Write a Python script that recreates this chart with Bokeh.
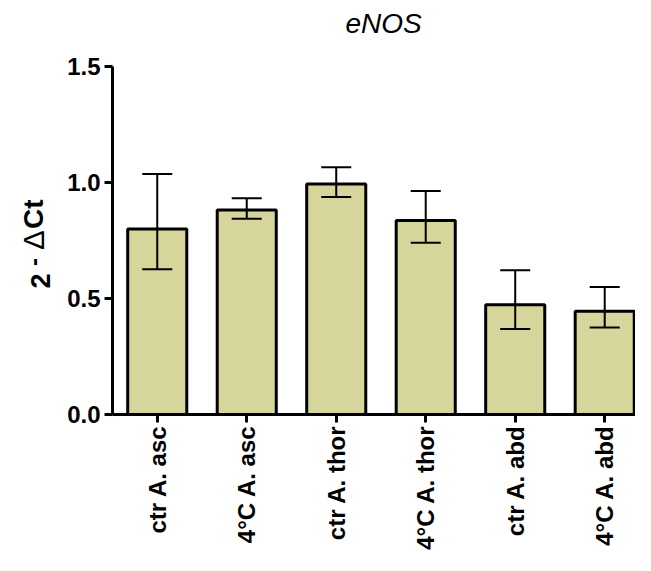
import math
from bokeh.plotting import figure
from bokeh.layouts import row
from bokeh.models import (ColumnDataSource, Whisker, TeeHead, Range1d, FixedTicker,
                          NumeralTickFormatter, Title)
from bokeh.core.properties import value
from bokeh.embed import file_html
from bokeh.resources import INLINE

categories = ["ctr A. asc", "4°C A. asc", "ctr A. thor", "4°C A. thor", "ctr A. abd", "4°C A. abd"]
means = [0.800, 0.882, 0.994, 0.836, 0.473, 0.445]
upper = [1.037, 0.932, 1.066, 0.963, 0.622, 0.550]
lower = [0.626, 0.844, 0.937, 0.740, 0.368, 0.375]
y_ticks = [0.0, 0.5, 1.0, 1.5]
title_text = "eNOS"
ylabel_parts = ["2", "-", "Δ", "Ct"]

xs = [i + 1 for i in range(len(categories))]
src = ColumnDataSource(data=dict(x=xs, top=means, upper=upper, lower=lower))

FONT = "Liberation Sans"
H = 555
yr = Range1d(0, 1.5)

# ---- main chart
p = figure(width=575, height=H, x_range=Range1d(0.5, 6.344), y_range=yr,
           output_backend="svg", toolbar_location=None,
           min_border_left=52, min_border_right=0, min_border_top=66, min_border_bottom=141,
           title=title_text)
p.outline_line_color = None
p.xgrid.visible = False
p.ygrid.visible = False

p.title.align = "left"
p.title.offset = 233
p.title.standoff = 6
p.title.text_font = FONT
p.title.text_font_style = "italic"
p.title.text_font_size = "28px"
p.title.text_color = "black"
# empty spacer between the title and the plot area
p.add_layout(Title(text=" ", text_font_size="1px", standoff=22), "above")

p.vbar(x="x", top="top", bottom=0, width=0.66, source=src,
       fill_color="#D5D59C", line_color="black", line_width=3)

w = Whisker(base="x", upper="upper", lower="lower", source=src, line_width=2, line_color="black",
            upper_head=TeeHead(size=30, line_width=2, line_color="black"),
            lower_head=TeeHead(size=30, line_width=2, line_color="black"),
            level="annotation")
p.add_layout(w)

ya = p.yaxis[0]
ya.ticker = FixedTicker(ticks=y_ticks, minor_ticks=[])
ya.formatter = NumeralTickFormatter(format="0.0")
ya.axis_line_width = 3
ya.major_tick_line_width = 3
ya.major_tick_out = 8
ya.major_tick_in = 0
ya.minor_tick_line_color = None
ya.major_label_text_font = FONT
ya.major_label_text_font_style = "bold"
ya.major_label_text_font_size = "24px"
ya.major_label_text_color = "black"
ya.major_label_standoff = 4

xa = p.xaxis[0]
xa.ticker = FixedTicker(ticks=xs, minor_ticks=[])
xa.major_label_overrides = {x: c for x, c in zip(xs, categories)}
xa.major_label_orientation = math.pi / 2
xa.axis_line_width = 3
xa.major_tick_line_width = 3
xa.major_tick_out = 8
xa.major_tick_in = 0
xa.minor_tick_line_color = None
xa.major_label_text_font = FONT
xa.major_label_text_font_style = "bold"
xa.major_label_text_font_size = "24px"
xa.major_label_text_color = "black"
xa.major_label_standoff = 3

# ---- narrow left panel holding the y-axis label (2 with superscript -ΔCt),
# sharing the main chart's y range so the label sits beside the axis
pl = figure(width=60, height=H, x_range=Range1d(0, 60), y_range=yr,
            output_backend="svg", toolbar_location=None, x_axis_type=None, y_axis_type=None,
            min_border_left=0, min_border_right=0, min_border_top=66, min_border_bottom=141)
pl.outline_line_color = None
pl.xgrid.visible = False
pl.ygrid.visible = False
lab_x = [40, 33, 33, 33]
lab_y = [0.543, 0.640, 0.710, 0.800]
lab_size = ["27px", "24px", "29px", "28px"]
lab_style = ["bold", "bold", "normal", "bold"]
lsrc = ColumnDataSource(data=dict(x=lab_x, y=lab_y, t=ylabel_parts, s=lab_size, st=lab_style))
pl.text(x="x", y="y", text="t", source=lsrc, angle=math.pi / 2,
        text_font=value(FONT), text_font_size="s", text_font_style="st",
        text_align="left", text_baseline="alphabetic", text_color="black")

layout = row(pl, p)
open("out.html", "w").write(file_html(layout, INLINE))
